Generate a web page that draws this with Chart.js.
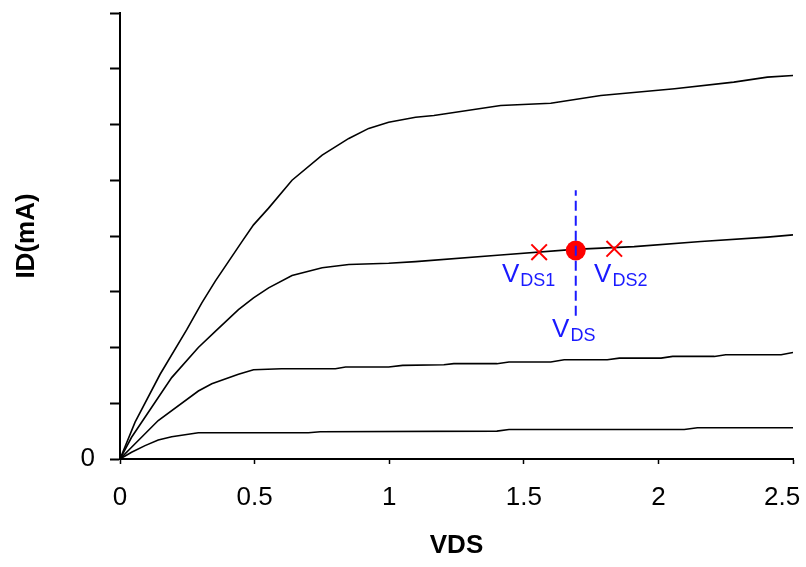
<!DOCTYPE html>
<html lang="en">
<head>
  <meta charset="UTF-8" />
  <title>ID vs VDS</title>
  <script src="https://cdn.jsdelivr.net/npm/chart.js"></script>
  <style>
    body {
      margin: 0;
      background: #fff;
    }
    .chart-box {
      width: 806px;
      height: 567px;
    }
  </style>
</head>
<body>
  <div class="chart-box">
    <canvas id="ivChart"></canvas>
  </div>

  <script>
    // output curves (VDS in V, ID in arbitrary units)
    const vds1 = [0, 0.056, 0.149, 0.248, 0.304, 0.354, 0.453, 0.496, 0.552, 0.639, 0.751, 0.85, 0.924, 0.998, 1.098, 1.166, 1.414, 1.6, 1.786, 2.06, 2.28, 2.405, 2.5];
    const id1 = [0, 0.66, 1.52, 2.32, 2.8, 3.19, 3.9, 4.2, 4.5, 5.0, 5.45, 5.75, 5.93, 6.04, 6.13, 6.16, 6.34, 6.38, 6.52, 6.64, 6.76, 6.85, 6.88];

    const vds2 = [0, 0.043, 0.192, 0.291, 0.354, 0.44, 0.496, 0.552, 0.639, 0.751, 0.85, 0.998, 1.098, 1.414, 1.687, 1.91, 2.158, 2.405, 2.5];
    const id2 = [0, 0.39, 1.46, 2.0, 2.29, 2.68, 2.89, 3.07, 3.29, 3.43, 3.49, 3.51, 3.54, 3.66, 3.76, 3.81, 3.9, 3.98, 4.02];

    const vds3 = [0, 0.043, 0.142, 0.291, 0.341, 0.44, 0.496, 0.6, 0.8, 0.838, 0.998, 1.05, 1.203, 1.24, 1.4, 1.445, 1.6, 1.65, 1.81, 1.855, 2.01, 2.053, 2.208, 2.25, 2.456, 2.5];
    const id3 = [0, 0.21, 0.69, 1.22, 1.35, 1.52, 1.6, 1.62, 1.62, 1.65, 1.65, 1.68, 1.69, 1.71, 1.71, 1.74, 1.74, 1.78, 1.78, 1.81, 1.81, 1.84, 1.84, 1.87, 1.87, 1.91];

    const vds4 = [0, 0.043, 0.093, 0.142, 0.192, 0.291, 0.7, 0.744, 1.4, 1.445, 2.096, 2.145, 2.5];
    const id4 = [0, 0.12, 0.24, 0.34, 0.4, 0.47, 0.47, 0.49, 0.5, 0.53, 0.53, 0.56, 0.56];

    // operating point and its two neighbours
    const opVds = [1.693];
    const opId = [3.74];
    const nearVds = [1.557, 1.836];
    const nearId = [3.71, 3.77];
    const markerVds = [1.693, 1.693];
    const markerId = [2.57, 4.82];

    const xTickLabels = ['0', '0.5', '1', '1.5', '2', '2.5'];
    const yTickLabels = ['0', '', '', '', '', '', '', '', ''];

    const FONT = "'Liberation Sans', Arial, sans-serif";
    const BLUE = '#1a1aff';
    const RED = '#ff0000';

    function pts(xs, ys) {
      return xs.map((x, i) => ({ x: x, y: ys[i] }));
    }

    function curve(xs, ys) {
      return {
        data: pts(xs, ys),
        borderColor: '#000',
        borderWidth: 1.6,
        pointRadius: 0,
        tension: 0,
        fill: false,
        order: 3
      };
    }

    // V with subscript labels, anchored in data units
    const notes = [
      { main: 'V', sub: 'DS1', x: 1.419, y: 3.18 },
      { main: 'V', sub: 'DS2', x: 1.761, y: 3.18 },
      { main: 'V', sub: 'DS', x: 1.605, y: 2.18 }
    ];

    const subLabels = {
      id: 'subLabels',
      afterDatasetsDraw(chart) {
        const ctx = chart.ctx;
        const xs = chart.scales.x, ys = chart.scales.y;
        ctx.save();
        ctx.fillStyle = BLUE;
        ctx.textBaseline = 'alphabetic';
        ctx.textAlign = 'left';
        notes.forEach(n => {
          const px = xs.getPixelForValue(n.x);
          const py = ys.getPixelForValue(n.y);
          ctx.font = '26px ' + FONT;
          ctx.fillText(n.main, px, py);
          const w = ctx.measureText(n.main).width;
          ctx.font = '18px ' + FONT;
          ctx.fillText(n.sub, px + w + 1, py + 4);
        });
        ctx.restore();
      }
    };

    const ctx = document.getElementById('ivChart').getContext('2d');
    const ivChart = new Chart(ctx, {
      type: 'line',
      data: {
        datasets: [
          {
            data: pts(markerVds, markerId),
            borderColor: BLUE,
            borderWidth: 2,
            borderDash: [10, 5],
            pointRadius: 0,
            order: 0
          },
          {
            data: pts(opVds, opId),
            showLine: false,
            pointRadius: 10,
            pointBackgroundColor: RED,
            pointBorderWidth: 0,
            order: 1
          },
          {
            data: pts(nearVds, nearId),
            showLine: false,
            pointStyle: 'crossRot',
            pointRadius: 11,
            pointBorderColor: RED,
            pointBorderWidth: 2,
            order: 1
          },
          curve(vds1, id1),
          curve(vds2, id2),
          curve(vds3, id3),
          curve(vds4, id4)
        ]
      },
      options: {
        responsive: true,
        maintainAspectRatio: false,
        animation: false,
        layout: { padding: { top: 11, right: 13, left: 0, bottom: 0 } },
        plugins: {
          legend: { display: false },
          tooltip: { enabled: false }
        },
        scales: {
          x: {
            type: 'linear',
            min: 0,
            max: 2.5,
            border: { display: true, color: '#000', width: 2 },
            grid: { drawOnChartArea: false, drawTicks: true, tickLength: 5, tickColor: '#000', tickWidth: 1.5 },
            ticks: {
              stepSize: 0.5,
              color: '#000',
              padding: 18,
              maxRotation: 0,
              font: { family: FONT, size: 26 },
              // last label sits left of its tick in the original
              callback: (v, i) => i === xTickLabels.length - 1 ? xTickLabels[i] + '   ' : xTickLabels[i]
            },
            title: {
              display: true,
              text: 'VDS',
              color: '#000',
              font: { family: FONT, size: 26, weight: 'bold' },
              padding: { top: 0, bottom: 6 }
            },
            afterFit(scale) {
              scale.height = 108;
              scale.paddingLeft = 0;
              scale.paddingRight = 0;
            }
          },
          y: {
            min: 0,
            max: 8,
            border: { display: true, color: '#000', width: 2 },
            grid: { drawOnChartArea: false, drawTicks: true, tickLength: 10, tickColor: '#000', tickWidth: 2 },
            ticks: {
              stepSize: 1,
              color: '#000',
              padding: 15,
              font: { family: FONT, size: 26 },
              callback: (v, i) => yTickLabels[i]
            },
            title: {
              display: true,
              text: 'ID(mA)',
              color: '#000',
              font: { family: FONT, size: 26, weight: 'bold' },
              padding: { top: 11, bottom: 0 }
            },
            afterFit(scale) {
              scale.width = 120;
              scale.paddingTop = 0;
              scale.paddingBottom = 0;
            }
          }
        }
      },
      plugins: [subLabels]
    });
  </script>
</body>
</html>
